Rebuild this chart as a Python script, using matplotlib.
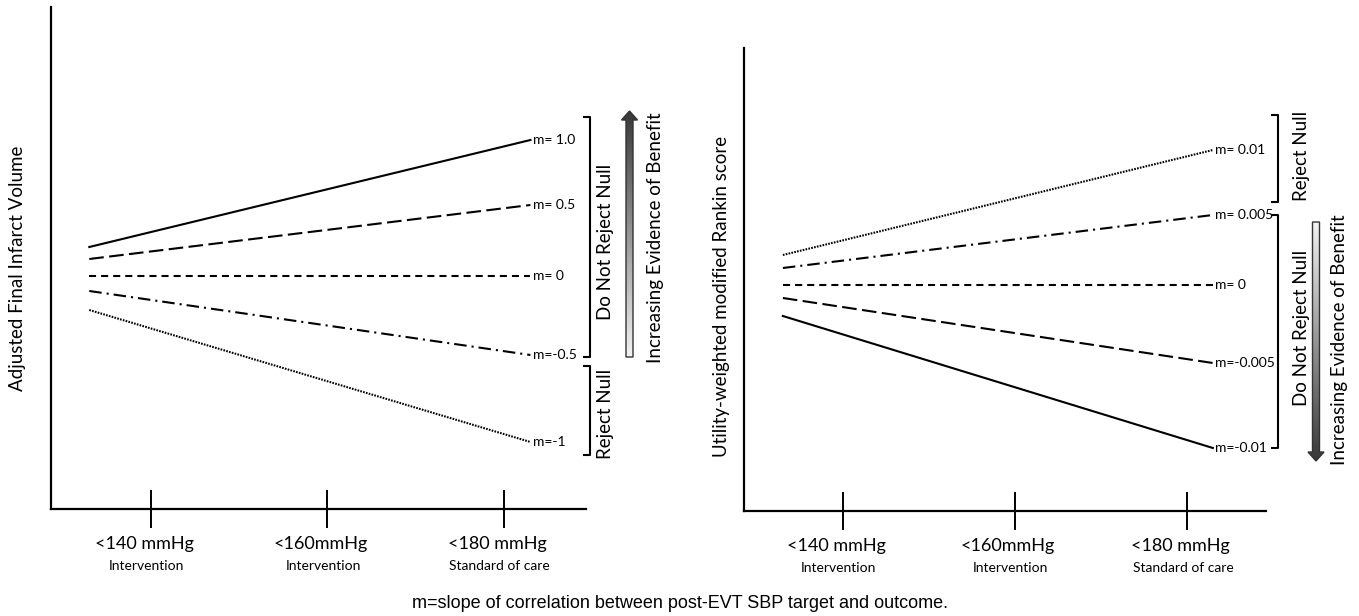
import numpy as np
import matplotlib
matplotlib.use("Agg")
from matplotlib import pyplot as plt
from matplotlib.patches import Polygon

plt.rcParams['font.family'] = ['Lato', 'DejaVu Sans']

# categories on the x axis
cat_pos = [0, 1, 2]
cat_main = ['<140 mmHg', '<160mmHg', '<180 mmHg']
cat_sub = ['Intervention', 'Intervention', 'Standard of care']

# x extent of the illustrative lines (in category units)
x_start, x_end = -0.35, 2.15

# left panel: final infarct volume
left_labels = ['m= 1.0', 'm= 0.5', 'm= 0', 'm=-0.5', 'm=-1']
left_y0 = [0.29, 0.17, 0.0, -0.15, -0.34]
left_y1 = [1.36, 0.71, 0.0, -0.79, -1.66]

# right panel: utility weighted mRS
right_labels = ['m= 0.01', 'm= 0.005', 'm= 0', 'm=-0.005', 'm=-0.01']
right_y0 = [0.30, 0.17, 0.0, -0.13, -0.31]
right_y1 = [1.35, 0.70, 0.0, -0.78, -1.63]

long_dash = (0, (7.0, 2.6))
short_dash = (0, (3.4, 2.4))
dash_dot = (0, (6.0, 2.4, 1.0, 2.4))
dotted = (0, (0.8, 0.6))
left_styles = ['-', long_dash, short_dash, dash_dot, dotted]
right_styles = [dotted, dash_dot, short_dash, long_dash, '-']

fig = plt.figure(figsize=(13.59, 6.16), dpi=100)
W, H = 1359, 616


def px_axes(x0, x1, ytop, ybot):
    return fig.add_axes([x0 / W, (H - ybot) / H, (x1 - x0) / W, (ybot - ytop) / H])


def setup(ax, xlim, ylim):
    ax.set_xlim(*xlim)
    ax.set_ylim(*ylim)
    for s in ['top', 'right']:
        ax.spines[s].set_visible(False)
    for s in ['left', 'bottom']:
        ax.spines[s].set_linewidth(1.6)
    ax.set_yticks([])
    ax.set_xticks(cat_pos)
    ax.set_xticklabels([])
    ax.tick_params(axis='x', direction='inout', length=28, width=1.4)
    for x, a, b in zip(cat_pos, cat_main, cat_sub):
        ax.annotate(a, (x, 0), xycoords=('data', 'axes fraction'), xytext=(-5, -25),
                    textcoords='offset points', ha='center', va='center', fontsize=13)
        ax.annotate(b, (x, 0), xycoords=('data', 'axes fraction'), xytext=(-3, -41),
                    textcoords='offset points', ha='center', va='center', fontsize=10)


axL = px_axes(51, 586, 7, 509)
setup(axL, (-0.567, 2.465), (-2.33, 2.69))
for y0, y1, ls, lab in zip(left_y0, left_y1, left_styles, left_labels):
    axL.plot([x_start, x_end], [y0, y1], color='black', lw=1.5, linestyle=ls)
    axL.annotate(lab, (x_end, y1), xytext=(1.5, 0), textcoords='offset points',
                 va='center', ha='left', fontsize=10)

axR = px_axes(744, 1266, 48, 511)
setup(axR, (-0.576, 2.459), (-2.26, 2.37))
for y0, y1, ls, lab in zip(right_y0, right_y1, right_styles, right_labels):
    axR.plot([x_start, x_end], [y0, y1], color='black', lw=1.5, linestyle=ls)
    axR.annotate(lab, (x_end, y1), xytext=(1.5, 0), textcoords='offset points',
                 va='center', ha='left', fontsize=10)

# overlay in pixel coordinates for brackets, arrows and notes
ov = fig.add_axes([0, 0, 1, 1], zorder=5)
ov.set_xlim(0, W)
ov.set_ylim(H, 0)
ov.axis('off')
ov.patch.set_visible(False)

ov.text(18, 268, 'Adjusted Final Infarct Volume', rotation=90, ha='center', va='center', fontsize=13.5)
ov.text(722, 296, 'Utility-weighted modified Rankin score', rotation=90, ha='center', va='center', fontsize=13.5)


def bracket(x, y0, y1):
    ov.plot([x - 6, x, x, x - 6], [y0, y0, y1, y1], color='black', lw=1.5)


def grad_arrow(xc, tail, tip, up):
    sh, hw, hl = 3.5, 8, 9
    d = -1 if up else 1
    base = tip - d * hl
    verts = [(xc - sh, tail), (xc - sh, base), (xc - hw, base), (xc, tip),
             (xc + hw, base), (xc + sh, base), (xc + sh, tail)]
    poly = Polygon(verts, closed=True, facecolor='none', edgecolor='#333333', lw=1.0, zorder=3)
    ov.add_patch(poly)
    g = np.linspace(0.22, 0.95, 200).reshape(-1, 1)
    top, bot = min(tail, tip), max(tail, tip)
    if not up:
        g = g[::-1]
    im = ov.imshow(g, cmap='gray', vmin=0, vmax=1, extent=(xc - hw, xc + hw, bot, top),
                   origin='upper', aspect='auto', zorder=2)
    clip = Polygon(verts, closed=True, transform=ov.transData)
    im.set_clip_path(clip)


# left panel annotations
bracket(590, 117, 357)
bracket(590, 366, 455)
ov.text(605, 242, 'Do Not Reject Null', rotation=90, ha='center', va='center', fontsize=13.5)
ov.text(605, 414, 'Reject Null', rotation=90, ha='center', va='center', fontsize=13.5)
grad_arrow(629.5, 357, 111, True)
ov.text(656, 238, 'Increasing Evidence of Benefit', rotation=90, ha='center', va='center', fontsize=13.5)

# right panel annotations
bracket(1278, 115, 202)
bracket(1278, 215, 448)
ov.text(1301, 156, 'Reject Null', rotation=90, ha='center', va='center', fontsize=13.5)
ov.text(1301, 328, 'Do Not Reject Null', rotation=90, ha='center', va='center', fontsize=13.5)
grad_arrow(1316, 222, 461, False)
ov.text(1340, 340, 'Increasing Evidence of Benefit', rotation=90, ha='center', va='center', fontsize=13.5)
ov.set_xlim(0, W)
ov.set_ylim(H, 0)

ov.text(680, 603, 'm=slope of correlation between post-EVT SBP target and outcome.',
        ha='center', va='center', fontsize=13, family='Liberation Sans')

fig.savefig('out.png', dpi=100)
